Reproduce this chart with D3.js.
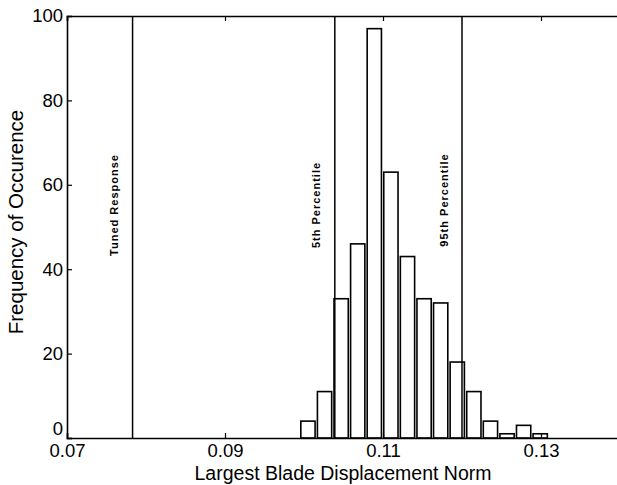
<!DOCTYPE html>
<html>
<head>
<meta charset="utf-8">
<script src="https://cdn.jsdelivr.net/npm/d3@7"></script>
<style>
  body { margin: 0; background: #fff; }
  svg text { font-family: "Liberation Sans", Arial, sans-serif; fill: #000; }
</style>
</head>
<body>
<div id="histChart"></div>
<script>
// histogram bins (centres) and counts
var binCentres = [0.1005, 0.1026, 0.1047, 0.1068, 0.1089, 0.1110, 0.1131, 0.1152,
                  0.1173, 0.1194, 0.1215, 0.1236, 0.1257, 0.1278, 0.1299];
var binCounts = [4, 11, 33, 46, 97, 63, 43, 33, 32, 18, 11, 4, 1, 3, 1];
var binWidth = 0.0021;

// reference lines
var markerNames = ["Tuned Response", "5th Percentile", "95th Percentile"];
var markerValues = [0.0783, 0.1039, 0.1200];

var xTickValues = [0.07, 0.09, 0.11, 0.13];
var yTickValues = [0, 20, 40, 60, 80, 100];

var chartSVG = d3.select("#histChart")
    .append("svg")
    .attr("width", 617)
    .attr("height", 485);

var plotLeft = 67, plotRight = 620, plotTop = 16, plotBottom = 438;

var histX = d3.scaleLinear().domain([0.07, 0.14]).range([plotLeft, plotRight]);
var histY = d3.scaleLinear().domain([0, 100]).range([plotBottom, plotTop]);

//Bars first so the frame and marker lines sit on top
chartSVG.append("g")
    .selectAll("rect")
    .data(binCentres)
    .enter().append("rect")
    .attr("x", function(d) { return histX(d - binWidth * 0.43); })
    .attr("y", function(d, i) { return histY(binCounts[i]); })
    .attr("width", function(d) { return histX(d + binWidth * 0.43) - histX(d - binWidth * 0.43); })
    .attr("height", function(d, i) { return histY(0) - histY(binCounts[i]); })
    .attr("fill", "#fff")
    .attr("stroke", "#000")
    .attr("stroke-width", 1.6);

//Marker lines with rotated labels
var markerG = chartSVG.append("g");
markerG.selectAll("line")
    .data(markerValues)
    .enter().append("line")
    .attr("x1", function(d) { return histX(d); })
    .attr("x2", function(d) { return histX(d); })
    .attr("y1", histY(0))
    .attr("y2", histY(100))
    .attr("stroke", "#000")
    .attr("stroke-width", 1.5);

var labelOffsets = [-19, -19, -18];
var labelCentreY = [205, 205, 200];
markerG.selectAll("text")
    .data(markerNames)
    .enter().append("text")
    .attr("transform", function(d, i) {
        return "translate(" + (histX(markerValues[i]) + labelOffsets[i] + 4) + "," + labelCentreY[i] + ") rotate(-90)";
    })
    .attr("text-anchor", "middle")
    .style("font-size", "11px")
    .style("font-weight", "bold")
    .style("letter-spacing", "1px")
    .text(function(d) { return d; });

//Axes (ticks pointing inward like the original)
var bottomAxis = chartSVG.append("g")
    .attr("transform", "translate(0," + plotBottom + ")")
    .call(d3.axisBottom(histX).tickValues(xTickValues).tickSize(-5).tickPadding(6)
        .tickFormat(d3.format(".2f")));
bottomAxis.selectAll("text").style("font-size", "18.5px").attr("dy", "0.71em");

var topAxis = chartSVG.append("g")
    .attr("transform", "translate(0," + plotTop + ")")
    .call(d3.axisTop(histX).tickValues(xTickValues).tickSize(-5).tickFormat(""));

var leftAxis = chartSVG.append("g")
    .attr("transform", "translate(" + plotLeft + ",0)")
    .call(d3.axisLeft(histY).tickValues(yTickValues).tickSize(-5).tickPadding(4));
leftAxis.selectAll("text").style("font-size", "18.5px");
//the zero label sits just above the x axis, as in the original
leftAxis.selectAll(".tick text").filter(function(d) { return d === 0; }).attr("dy", "-0.2em");

chartSVG.selectAll(".domain").attr("stroke-width", 1.6);
chartSVG.selectAll(".tick line").attr("stroke-width", 1.2);

//Axis titles
chartSVG.append("text")
    .attr("x", 343)
    .attr("y", 480)
    .attr("text-anchor", "middle")
    .style("font-size", "19.5px")
    .text("Largest Blade Displacement Norm");

chartSVG.append("text")
    .attr("transform", "translate(23,222) rotate(-90)")
    .attr("text-anchor", "middle")
    .style("font-size", "20.5px")
    .text("Frequency of Occurence");
</script>
</body>
</html>
